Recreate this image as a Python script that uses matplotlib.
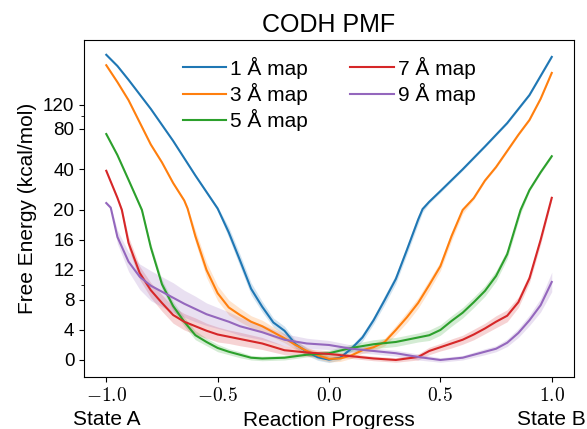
import numpy as np
import matplotlib
matplotlib.use("Agg")
import matplotlib.pyplot as plt

plt.rcParams['font.family'] = ['Liberation Sans', 'DejaVu Sans']
plt.rcParams['mathtext.fontset'] = 'cm'

# data (reaction progress vs free energy, kcal/mol)
x1 = [-1, -0.95, -0.9, -0.8, -0.7, -0.6, -0.5, -0.45, -0.4, -0.35, -0.3, -0.25,
      -0.2, -0.15, -0.1, -0.05, 0, 0.05, 0.1, 0.15, 0.2, 0.25, 0.3, 0.35, 0.4,
      0.42, 0.45, 0.5, 0.6, 0.7, 0.8, 0.9, 1.0]
y1 = [282, 233, 184, 112, 65, 36, 20.5, 17.0, 13.3, 9.5, 7.1, 5.0,
      3.9, 2.1, 1.1, 0.35, 0.05, 0.3, 1.5, 3.0, 5.3, 8.0, 10.8, 14.7, 18.7,
      20.3, 23, 27.6, 40, 59, 88, 142, 272]
e1 = [5, 4, 3, 2, 1.2, 0.8, 0.6, 0.7, 0.8, 0.8, 0.7, 0.6,
      0.6, 0.5, 0.5, 0.4, 0.4, 0.3, 0.4, 0.5, 0.5, 0.6, 0.6, 0.6, 0.6,
      0.6, 0.6, 0.7, 0.8, 1, 1.5, 2.5, 5]

x3 = [-1, -0.95, -0.9, -0.8, -0.75, -0.7, -0.65, -0.635, -0.6, -0.55, -0.5,
      -0.45, -0.4, -0.35, -0.3, -0.25, -0.2, -0.15, -0.1, -0.05, 0, 0.05, 0.1,
      0.15, 0.2, 0.25, 0.3, 0.35, 0.4, 0.45, 0.5, 0.55, 0.6, 0.65, 0.7, 0.75,
      0.8, 0.85, 0.9, 0.95, 1.0]
y3 = [236, 177, 130, 61, 45, 31.7, 23.5, 20.5, 16.5, 12, 8.9,
      7.0, 6.0, 5.1, 4.5, 3.7, 2.9, 2.0, 1.2, 0.6, 0.15, 0.2, 0.6,
      1.3, 1.7, 2.4, 4.0, 5.7, 7.6, 10, 12.5, 16.5, 20, 24.5, 33, 41.6,
      54.7, 72, 92.8, 133, 207]
e3 = [4, 3, 2, 1.2, 1, 0.8, 0.6, 0.6, 0.8, 1.0, 1.0,
      1.0, 0.9, 0.8, 0.8, 0.7, 0.6, 0.6, 0.5, 0.5, 0.4, 0.4, 0.4,
      0.4, 0.5, 0.5, 0.6, 0.7, 0.7, 0.7, 0.6, 0.6, 0.5, 0.6, 0.6, 0.8,
      1, 1.2, 1.5, 2, 3]

x5 = [-1, -0.95, -0.9, -0.84, -0.8, -0.75, -0.7, -0.65, -0.6, -0.55, -0.5,
      -0.45, -0.4, -0.35, -0.3, -0.2, -0.1, 0, 0.1, 0.2, 0.3, 0.4, 0.45, 0.5,
      0.55, 0.6, 0.65, 0.7, 0.75, 0.8, 0.86, 0.9, 0.95, 1.0]
y5 = [73, 51, 33.4, 20, 15.0, 10.1, 7.2, 5.1, 3.3, 2.4, 1.6,
      1.1, 0.7, 0.3, 0.2, 0.3, 0.7, 0.9, 1.6, 2.1, 2.4, 3.0, 3.3, 4.0,
      5.2, 6.3, 7.7, 9.2, 11.2, 14.1, 20, 28.1, 38, 50]
e5 = [1.5, 1, 0.8, 0.5, 0.5, 0.6, 0.6, 0.6, 0.6, 0.5, 0.5,
      0.4, 0.4, 0.3, 0.3, 0.3, 0.3, 0.4, 0.5, 0.6, 0.6, 0.6, 0.7, 0.7,
      0.7, 0.7, 0.7, 0.7, 0.7, 0.6, 0.5, 0.6, 0.8, 1.0]

x7 = [-1, -0.95, -0.93, -0.9, -0.85, -0.8, -0.75, -0.7, -0.65, -0.6, -0.55, -0.5,
      -0.45, -0.4, -0.3, -0.2, -0.1, 0, 0.1, 0.2, 0.3, 0.4, 0.45, 0.5, 0.55,
      0.6, 0.65, 0.7, 0.75, 0.8, 0.85, 0.9, 0.95, 1.0]
y7 = [39, 24.6, 20, 15.6, 11.6, 9.3, 7.6, 6.0, 5.1, 4.5, 3.9, 3.4,
      3.1, 2.8, 2.2, 1.3, 1.0, 0.8, 0.5, 0.2, 0.0, 0.4, 1.2, 1.7, 2.2,
      2.7, 3.4, 4.2, 5.1, 5.9, 7.7, 10.9, 16, 24.6]
e7 = [0.8, 0.6, 0.7, 0.8, 0.9, 1.0, 1.1, 1.1, 1.1, 1.1, 1.0, 1.0,
      0.9, 0.9, 0.8, 0.6, 0.5, 0.4, 0.3, 0.3, 0.3, 0.4, 0.5, 0.5, 0.6,
      0.6, 0.7, 0.7, 0.8, 0.8, 0.7, 0.6, 0.6, 0.8]

x9 = [-1, -0.98, -0.95, -0.9, -0.85, -0.8, -0.75, -0.7, -0.65, -0.6, -0.55,
      -0.5, -0.45, -0.4, -0.3, -0.2, -0.1, 0, 0.1, 0.2, 0.3, 0.4, 0.5, 0.6,
      0.7, 0.75, 0.8, 0.85, 0.9, 0.95, 1.0]
y9 = [22.5, 20.8, 16.4, 13.1, 11.1, 9.9, 9.1, 8.3, 7.5, 6.8, 6.1,
      5.6, 5.1, 4.5, 3.7, 2.7, 2.2, 2.0, 1.5, 1.2, 0.9, 0.4, 0.0, 0.3,
      1.1, 1.5, 2.3, 3.6, 5.3, 7.3, 10.4]
e9 = [0.5, 0.6, 0.9, 1.3, 1.7, 2.0, 2.0, 2.0, 1.8, 1.7, 1.5,
      1.4, 1.3, 1.2, 1.0, 0.8, 0.7, 0.6, 0.5, 0.4, 0.4, 0.4, 0.3, 0.3,
      0.4, 0.4, 0.5, 0.6, 0.7, 0.9, 1.3]

series = [(x1, y1, e1, '1 Å map'), (x3, y3, e3, '3 Å map'), (x5, y5, e5, '5 Å map'),
          (x7, y7, e7, '7 Å map'), (x9, y9, e9, '9 Å map')]

yticks = [0, 4, 8, 12, 16, 20, 40, 80, 120]
xticks = [-1.0, -0.5, 0.0, 0.5, 1.0]

fig = plt.figure(figsize=(5.87, 4.29), dpi=100)
ax = fig.add_axes([0.1431, 0.1212, 0.8348, 0.7856])

for i, (x, y, e, lab) in enumerate(series):
    c = 'C%d' % i
    x, y, e = np.array(x), np.array(y), np.array(e)
    ax.fill_between(x, y - e, y + e, color=c, alpha=0.2, lw=0)
    ax.plot(x, y, color=c, lw=1.5, label=lab)

ax.set_yscale('symlog', linthresh=20, linscale=1)
ax.set_xlim(-1.1, 1.1)
ax.set_ylim(-2.27, 363)
ax.set_yticks(yticks)
ax.set_yticklabels([str(t) for t in yticks])
ax.set_yticks([10, 100], minor=True)
ax.set_xticks(xticks)
ax.set_xticklabels([r'$%.1f$' % t for t in xticks])
ax.tick_params(axis='y', labelsize=13.5)
ax.tick_params(axis='x', labelsize=14)

ax.set_title('CODH PMF', fontsize=18, pad=6)
ax.set_ylabel('Free Energy (kcal/mol)', fontsize=15)
ax.set_xlabel('Reaction Progress', fontsize=15)
ax.xaxis.set_label_coords(0.5, -0.10)

trans = ax.get_xaxis_transform()
ax.text(-1.0, -0.142, 'State A', transform=trans, ha='center', va='baseline', fontsize=15)
ax.text(1.0, -0.142, 'State B', transform=trans, ha='center', va='baseline', fontsize=15)

ax.legend(loc='upper center', ncol=2, frameon=False, fontsize=15,
          handlelength=2.1, handletextpad=0.2, columnspacing=2.0,
          labelspacing=0.2, borderaxespad=0.4)

fig.savefig('out.png', dpi=100)
